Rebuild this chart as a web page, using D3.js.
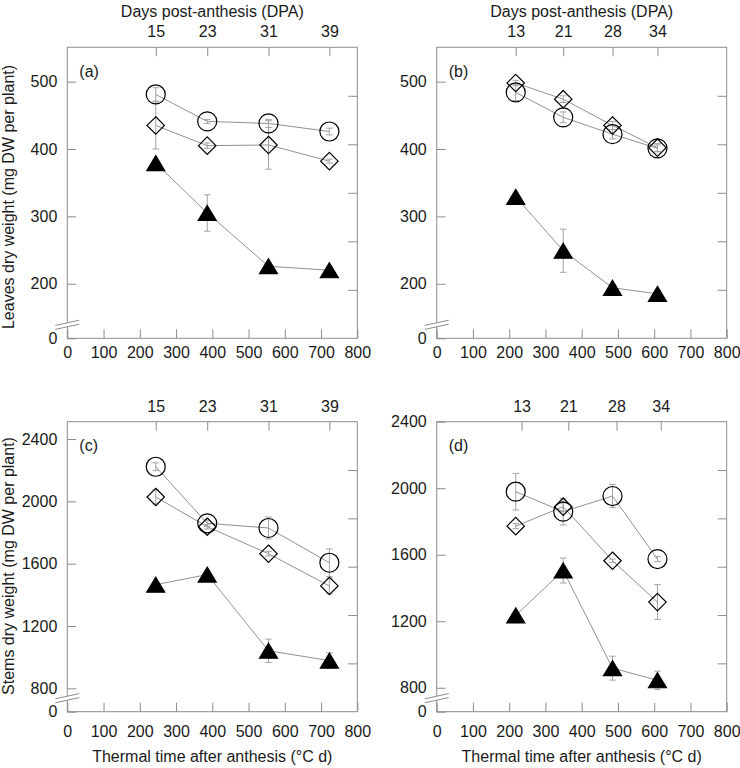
<!DOCTYPE html>
<html><head><meta charset="utf-8">
<script src="https://cdn.jsdelivr.net/npm/d3@7"></script>
<style>
body{margin:0;background:#fff;}
svg{display:block;font-family:"Liberation Sans",Arial,sans-serif;}
</style></head>
<body>
<script>
// ---------------- DATA ----------------
const xTicks = [0, 100, 200, 300, 400, 500, 600, 700, 800];
// thermal time (°C d) of each sampling
const thermalSite1 = [244, 386, 555, 723];
const thermalSite2 = [218, 349, 485, 609];
// days post-anthesis labels (top axis)
const dpaSite1 = ["15", "23", "31", "39"];
const dpaSite2 = ["13", "21", "28", "34"];
const dpaTickPosD = [234, 363, 496, 618];

const leavesTicks = [200, 300, 400, 500];
const stemsTicks = [800, 1200, 1600, 2000, 2400];

// (a) leaves, site 1
const aCircle = [481, 441, 438, 426], aCircleErr = [10, 3, 6, 5];
const aDiamond = [435, 405, 406, 382], aDiamondErr = [35, 4, 36, 3];
const aTriangle = [379, 305, 226, 220], aTriangleErr = [5, 27, 5, 5];
// (b) leaves, site 2
const bCircle = [484, 447, 422, 401], bCircleErr = [12, 8, 7, 5];
const bDiamond = [498, 474, 435, 402], bDiamondErr = [4, 5, 6, 6];
const bTriangle = [329, 249, 194, 185], bTriangleErr = [4, 32, 4, 5];
// (c) stems, site 1
const cCircle = [2222, 1859, 1829, 1606], cCircleErr = [25, 20, 70, 88];
const cDiamond = [2028, 1837, 1664, 1457], cDiamondErr = [45, 15, 15, 50];
const cTriangle = [1465, 1530, 1041, 978], cTriangleErr = [10, 10, 75, 50];
// (d) stems, site 2
const dCircle = [1979, 1859, 1953, 1574], dCircleErr = [110, 80, 70, 15];
const dDiamond = [1772, 1889, 1564, 1315], dDiamondErr = [15, 30, 10, 105];
const dTriangle = [1235, 1505, 918, 845], dTriangleErr = [10, 75, 72, 55];

// ---------------- LAYOUT ----------------
const W = 740, H = 768;
const FONT = 16;
const frameColor = "#8c8c8c";
const lineColor = "#858585";
const errColor = "#a3a3a3";
const textColor = "#1a1a1a";

const svg = d3.select("body").append("svg").attr("width", W).attr("height", H);

const panels = [
  {label: "(a)", left: 67.3, right: 357.3, top: 47.3, bottom: 338.3, yDomain: [119, 551], yTicks: leavesTicks,
   xs: thermalSite1, topPos: thermalSite1, dpa: dpaSite1, botPad: 8, dpaTitle: true, yTitle: "Leaves dry weight (mg DW per plant)", yTitleY: 197,
   series: [[aCircle, aCircleErr, "circle"], [aDiamond, aDiamondErr, "diamond"], [aTriangle, aTriangleErr, "triangle"]]},
  {label: "(b)", left: 436.7, right: 726.7, top: 47.3, bottom: 338.3, yDomain: [119, 551], yTicks: leavesTicks,
   xs: thermalSite2, topPos: thermalSite2, dpa: dpaSite2, botPad: 8, dpaTitle: true,
   series: [[bCircle, bCircleErr, "circle"], [bDiamond, bDiamondErr, "diamond"], [bTriangle, bTriangleErr, "triangle"]]},
  {label: "(c)", left: 67.3, right: 357.3, top: 421.7, bottom: 711.7, yDomain: [650, 2511], yTicks: stemsTicks,
   xs: thermalSite1, topPos: thermalSite1, dpa: dpaSite1, botPad: 13.5, xTitle: true, yTitle: "Stems dry weight (mg DW per plant)", yTitleY: 566,
   series: [[cCircle, cCircleErr, "circle"], [cDiamond, cDiamondErr, "diamond"], [cTriangle, cTriangleErr, "triangle"]]},
  {label: "(d)", left: 436.7, right: 726.7, top: 421.7, bottom: 711.7, yDomain: [656, 2400], yTicks: stemsTicks,
   xs: thermalSite2, topPos: dpaTickPosD, dpa: dpaSite2, botPad: 13.5, xTitle: true,
   series: [[dCircle, dCircleErr, "circle"], [dDiamond, dDiamondErr, "diamond"], [dTriangle, dTriangleErr, "triangle"]]}
];

function styleAxis(g) {
  g.select(".domain").remove();
  g.selectAll(".tick line").attr("stroke", frameColor);
  g.selectAll(".tick text").attr("fill", textColor).style("font-size", FONT + "px");
}

function markerPath(type, cx, cy) {
  if (type === "circle") {
    const r = 9.5;
    return `M${cx + r},${cy}A${r},${r} 0 1,1 ${cx - r},${cy}A${r},${r} 0 1,1 ${cx + r},${cy}Z`;
  }
  if (type === "diamond") {
    const d = 8.7;
    return `M${cx},${cy - d}L${cx + d},${cy}L${cx},${cy + d}L${cx - d},${cy}Z`;
  }
  const hw = 9, hh = 7.5;
  return `M${cx},${cy - hh}L${cx + hw},${cy + hh}L${cx - hw},${cy + hh}Z`;
}

panels.forEach(p => {
  const x = d3.scaleLinear().domain([0, 800]).range([p.left, p.right]);
  const y = d3.scaleLinear().domain(p.yDomain).range([p.bottom, p.top]);
  const yRight = d3.scaleLinear().domain([0, 6]).range([p.bottom, p.top]);
  const g = svg.append("g");

  // frame
  g.append("rect").attr("x", p.left).attr("y", p.top)
    .attr("width", p.right - p.left).attr("height", p.bottom - p.top)
    .attr("fill", "none").attr("stroke", frameColor).attr("stroke-width", 1);

  // bottom axis
  g.append("g").attr("transform", `translate(0,${p.bottom})`)
    .call(d3.axisBottom(x).tickValues(xTicks).tickSizeInner(-9).tickSizeOuter(0).tickPadding(p.botPad).tickFormat(d3.format("d")))
    .call(styleAxis);

  // top axis (DPA)
  g.append("g").attr("transform", `translate(0,${p.top})`)
    .call(d3.axisTop(x).tickValues(p.topPos).tickSizeInner(-9).tickSizeOuter(0).tickPadding(10).tickFormat((d, i) => p.dpa[i]))
    .call(styleAxis);

  // left axis (broken: bottom shown as 0)
  const yTickVals = [p.yDomain[0]].concat(p.yTicks);
  g.append("g").attr("transform", `translate(${p.left},0)`)
    .call(d3.axisLeft(y).tickValues(yTickVals).tickSizeInner(-9).tickSizeOuter(0).tickPadding(10)
      .tickFormat(d => d === p.yDomain[0] ? "0" : String(d)))
    .call(styleAxis);

  // right axis (unlabelled ticks)
  g.append("g").attr("transform", `translate(${p.right},0)`)
    .call(d3.axisRight(yRight).tickValues([1, 2, 3, 4, 5]).tickSizeInner(-9).tickSizeOuter(0).tickFormat(""))
    .call(styleAxis);

  // axis break marks
  const yb = y.range()[0] - 13.5;
  const x0 = p.left - 12, x1 = p.left + 12, s = 2.6;
  g.append("path")
    .attr("d", `M${x0},${yb + s + 2}L${x1},${yb - s + 2}L${x1},${yb - s - 2}L${x0},${yb + s - 2}Z`)
    .attr("fill", "#fff");
  [-2, 2].forEach(o => {
    g.append("line").attr("x1", x0).attr("y1", yb + s + o).attr("x2", x1).attr("y2", yb - s + o)
      .attr("stroke", frameColor).attr("stroke-width", 1);
  });

  // panel label
  g.append("text").attr("x", p.left + 12).attr("y", p.top + 24).attr("dy", "0.35em")
    .attr("fill", textColor).style("font-size", FONT + "px").text(p.label);

  // connecting lines
  const line = d3.line().x((d, i) => x(p.xs[i])).y(d => y(d));
  p.series.forEach(([vals]) => {
    g.append("path").attr("d", line(vals)).attr("fill", "none")
      .attr("stroke", lineColor).attr("stroke-width", 0.9);
  });

  // error bars
  p.series.forEach(([vals, errs]) => {
    vals.forEach((v, i) => {
      const cx = x(p.xs[i]);
      const y1 = y(v - errs[i]), y2 = y(v + errs[i]);
      g.append("line").attr("x1", cx).attr("x2", cx).attr("y1", y1).attr("y2", y2)
        .attr("stroke", errColor).attr("stroke-width", 1);
      [y1, y2].forEach(yy => g.append("line").attr("x1", cx - 3.3).attr("x2", cx + 3.3)
        .attr("y1", yy).attr("y2", yy).attr("stroke", errColor).attr("stroke-width", 1));
    });
  });

  // markers
  p.series.forEach(([vals, errs, type]) => {
    g.selectAll(null).data(vals).enter().append("path")
      .attr("d", (d, i) => markerPath(type, x(p.xs[i]), y(d)))
      .attr("fill", type === "triangle" ? "#000" : "none")
      .attr("stroke", "#000").attr("stroke-width", 1.2);
  });

  // titles
  if (p.dpaTitle) {
    g.append("text").attr("x", (p.left + p.right) / 2).attr("y", 16.5).attr("text-anchor", "middle")
      .attr("fill", textColor).style("font-size", FONT + "px").text("Days post-anthesis (DPA)");
  }
  if (p.xTitle) {
    g.append("text").attr("x", (p.left + p.right) / 2).attr("y", 761.5).attr("text-anchor", "middle")
      .attr("fill", textColor).style("font-size", FONT + "px").text("Thermal time after anthesis (°C d)");
  }
  if (p.yTitle) {
    g.append("text").attr("transform", `translate(14,${p.yTitleY}) rotate(-90)`).attr("text-anchor", "middle")
      .attr("fill", textColor).style("font-size", FONT + "px").text(p.yTitle);
  }
});
</script>
</body></html>
